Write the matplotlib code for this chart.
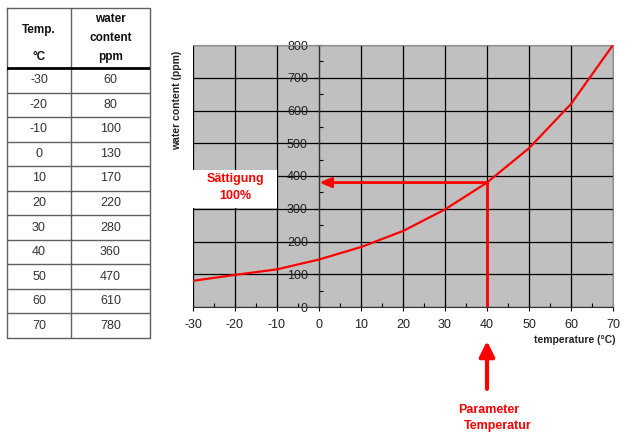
import matplotlib.pyplot as plt
from matplotlib.patches import Rectangle
from matplotlib.ticker import MultipleLocator

plt.rcParams["font.family"] = ["Liberation Sans", "DejaVu Sans"]
plt.rcParams["axes.unicode_minus"] = False

# table values
table_temp = ["-30", "-20", "-10", "0", "10", "20", "30", "40", "50", "60", "70"]
table_ppm = ["60", "80", "100", "130", "170", "220", "280", "360", "470", "610", "780"]

# curve as drawn in the chart
curve_temp = [-30, -20, -10, 0, 10, 20, 30, 40, 50, 60, 70]
curve_ppm = [80, 98, 115, 145, 183, 232, 298, 380, 485, 620, 800]

sel_temp = 40
sel_ppm = 380

RED = "#ff0000"
GRAY = "#c0c0c0"

fig = plt.figure(figsize=(6.37, 4.38), dpi=100)
W, H = 637, 438


def fig_rect(l, t, r, b):
    return [l / W, 1 - b / H, (r - l) / W, (b - t) / H]


# ---- table on the left ----
tab = fig.add_axes(fig_rect(7, 8, 150, 338))
tab.set_xlim(7, 150)
tab.set_ylim(338, 8)
tab.axis("off")
col_div = 71
head_bot = 68
row_h = (338 - head_bot) / len(table_temp)
lc = "#606060"
tab.plot([7, 150, 150, 7, 7], [8, 8, 338, 338, 8], color=lc, lw=1, clip_on=False)
tab.plot([col_div, col_div], [8, 338], color=lc, lw=1)
tab.plot([7, 150], [head_bot, head_bot], color="black", lw=2)
for i in range(1, len(table_temp)):
    y = head_bot + i * row_h
    tab.plot([7, 150], [y, y], color=lc, lw=1)
hs = dict(ha="center", va="center", fontsize=8.5, fontweight="bold", color="#111111")
tab.text((7 + col_div) / 2, 30, "Temp.", **hs)
tab.text((7 + col_div) / 2, 57, "°C", **hs)
tab.text((col_div + 150) / 2, 19, "water", **hs)
tab.text((col_div + 150) / 2, 38, "content", **hs)
tab.text((col_div + 150) / 2, 57, "ppm", **hs)
for i, (t, p) in enumerate(zip(table_temp, table_ppm)):
    yc = head_bot + (i + 0.5) * row_h
    tab.text((7 + col_div) / 2, yc, t, ha="center", va="center", fontsize=9, color="#333333")
    tab.text((col_div + 150) / 2, yc, p, ha="center", va="center", fontsize=9, color="#333333")

# ---- chart ----
ax = fig.add_axes(fig_rect(193, 45, 613, 307))
ax.set_facecolor(GRAY)
ax.set_xlim(-30, 70)
ax.set_ylim(0, 800)
ax.xaxis.set_major_locator(MultipleLocator(10))
ax.xaxis.set_minor_locator(MultipleLocator(5))
ax.yaxis.set_major_locator(MultipleLocator(100))
ax.yaxis.set_minor_locator(MultipleLocator(50))
ax.grid(True, which="major", color="black", lw=0.9)
ax.set_axisbelow(True)

ax.spines["left"].set_position(("data", 0))
ax.spines["left"].set_color("#333333")
ax.spines["bottom"].set_color("#333333")
ax.spines["top"].set_color("#909090")
ax.spines["right"].set_color("#909090")
ax.tick_params(axis="both", which="major", direction="inout", length=6, labelsize=9,
               labelcolor="#222222", width=0.8)
ax.tick_params(axis="x", which="major", pad=6)
ax.tick_params(axis="y", which="major", pad=5)
ax.tick_params(axis="both", which="minor", direction="in", length=3, width=0.8)

ax.plot(curve_temp, curve_ppm, color=RED, lw=1.6, zorder=4)

# white box with label
ax.add_patch(Rectangle((-30, 302), 20, 116, facecolor="white", edgecolor="none", zorder=3))
ax.text(-20, 392, "Sättigung", color=RED, ha="center", va="center", fontsize=9,
        fontweight="bold", zorder=5)
ax.text(-20, 340, "100%", color=RED, ha="center", va="center", fontsize=9,
        fontweight="bold", zorder=5)

# reading lines
ax.plot([sel_temp, sel_temp], [0, sel_ppm], color=RED, lw=2, zorder=5)
ax.annotate("", xy=(0.1, sel_ppm), xytext=(sel_temp, sel_ppm),
            arrowprops=dict(arrowstyle="-|>,head_length=0.7,head_width=0.3", color=RED, lw=2,
                            shrinkA=0, shrinkB=0), zorder=5)

# lower arrow and label
ax.annotate("", xy=(sel_temp, -104), xytext=(sel_temp, -250),
            arrowprops=dict(arrowstyle="-|>,head_length=0.9,head_width=0.45", color=RED, lw=3,
                            shrinkA=0, shrinkB=0), annotation_clip=False)
ax.text(sel_temp + 0.5, -314, "Parameter", color=RED, ha="center", va="center",
        fontsize=9, fontweight="bold", clip_on=False)
ax.text(sel_temp + 2.5, -363, "Temperatur", color=RED, ha="center", va="center",
        fontsize=9, fontweight="bold", clip_on=False)

ax.text(70.7, -102, "temperature (°C)", ha="right", va="center", fontsize=7.5,
        fontweight="bold", color="#222222", clip_on=False)
fig.text(177 / W, 1 - 100 / H, "water content (ppm)", rotation=90, ha="center", va="center",
         fontsize=7.5, fontweight="bold", color="#222222")

fig.savefig("out.png", dpi=100)
